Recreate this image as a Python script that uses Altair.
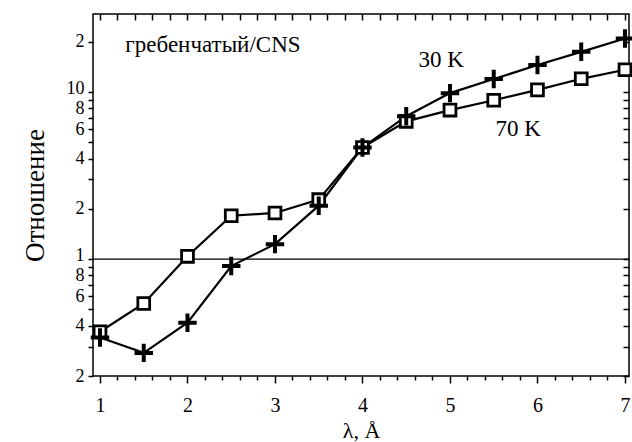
import json
import altair as alt
import pandas as pd

# ---- data ----
lam = [1, 1.5, 2, 2.5, 3, 3.5, 4, 4.5, 5, 5.5, 6, 6.5, 7]
ratio_30K = [0.34, 0.275, 0.417, 0.91, 1.23, 2.09, 4.66, 7.17, 9.85, 11.96, 14.5, 17.4, 20.9]
ratio_70K = [0.368, 0.543, 1.04, 1.82, 1.89, 2.27, 4.66, 6.68, 7.8, 8.93, 10.3, 12.0, 13.6]

y_tick_values = [0.2, 0.3, 0.4, 0.5, 0.6, 0.7, 0.8, 0.9, 1, 2, 3, 4, 5, 6, 7, 8, 9, 10, 20]
y_tick_labels = ["2", "", "4", "", "6", "", "8", "", "1", "2", "", "4", "", "6", "", "8", "", "10", "2"]
x_tick_values = [1, 1.2, 1.4, 1.6, 1.8, 2, 2.2, 2.4, 2.6, 2.8, 3, 3.2, 3.4, 3.6, 3.8, 4,
                 4.2, 4.4, 4.6, 4.8, 5, 5.2, 5.4, 5.6, 5.8, 6, 6.2, 6.4, 6.6, 6.8, 7]

notes_text = ["гребенчатый/CNS", "30 K", "70 K"]
notes_x = [1.29, 4.64, 5.52]
notes_y = [19.2, 15.6, 5.98]

ref_line = [1]

FONT = "Liberation Serif"

df30 = pd.DataFrame({"lam": lam, "ratio": ratio_30K})
df70 = pd.DataFrame({"lam": lam, "ratio": ratio_70K})
notes = pd.DataFrame({"lam": notes_x, "ratio": notes_y, "txt": notes_text})
ref = pd.DataFrame({"ratio": ref_line})

xs = alt.Scale(domain=[0.92, 7.046], nice=False, zero=False)
ys = alt.Scale(type="log", domain=[0.2, 29.3], nice=False)

is_major = "abs(datum.value - round(datum.value)) < 0.01"
y_label_expr = "%s[indexof(%s, datum.value)]" % (json.dumps(y_tick_labels), json.dumps(y_tick_values))
decade_label = "datum.value == 1 || datum.value == 10"

x_axis_bottom = alt.Axis(
    orient="bottom", values=x_tick_values, labelExpr=is_major + " ? '' + round(datum.value) : ''",
    tickSize={"condition": {"test": is_major, "value": 7}, "value": 4},
    tickColor="black", tickWidth=1.5, domain=False, grid=False,
    labelFont=FONT, labelFontSize=20, labelColor="black", labelPadding=12,
    labelOverlap=False, labelFlush=False,
    title="λ, Å", titleFont=FONT, titleFontSize=22, titleFontWeight="normal",
    titleColor="black", titlePadding=5,
)
y_axis_left = alt.Axis(
    orient="left", values=y_tick_values, labelExpr=y_label_expr,
    labelOffset={"condition": {"test": decade_label, "value": -4}, "value": 0},
    tickSize=5, tickColor="black", tickWidth=1.5, domain=False, grid=False,
    labelFont=FONT, labelFontSize=18, labelColor="black", labelPadding=4,
    labelOverlap=False, labelFlush=False,
    title="Отношение", titleFont=FONT, titleFontSize=27, titleFontWeight="normal",
    titleColor="black", titlePadding=17,
)
x_axis_top = alt.Axis(
    orient="top", values=x_tick_values, labels=False, title="", offset=-6,
    tickSize=6, tickColor="black", tickWidth=1.5, domain=False, grid=False,
)
y_axis_right = alt.Axis(
    orient="right", values=y_tick_values, labels=False, title="", offset=-6,
    tickSize=6, tickColor="black", tickWidth=1.5, domain=False, grid=False,
)

line70 = alt.Chart(df70).mark_line(color="black", strokeWidth=2.2).encode(
    x=alt.X("lam:Q", scale=xs, axis=x_axis_bottom),
    y=alt.Y("ratio:Q", scale=ys, axis=y_axis_left),
)
rule = alt.Chart(ref).mark_rule(color="black", strokeWidth=1.4).encode(
    y=alt.Y("ratio:Q", scale=ys, axis=y_axis_right),
    x=alt.value(0),
    x2=alt.value(536),
)
frame_top = alt.Chart(df70).mark_point(opacity=0).encode(
    x=alt.X("lam:Q", scale=xs, axis=x_axis_top),
    y=alt.Y("ratio:Q", scale=ys, axis=None),
)
line30 = alt.Chart(df30).mark_line(color="black", strokeWidth=2.2).encode(
    x=alt.X("lam:Q", scale=xs, axis=None),
    y=alt.Y("ratio:Q", scale=ys, axis=None),
)
pts70 = alt.Chart(df70).mark_point(
    shape="square", size=140, filled=True, fill="white", stroke="black", strokeWidth=2.8, opacity=1
).encode(
    x=alt.X("lam:Q", scale=xs, axis=None),
    y=alt.Y("ratio:Q", scale=ys, axis=None),
)
pts30 = alt.Chart(df30).mark_point(
    shape="M-1,0L1,0M0,-1L0,1", size=340, filled=False, stroke="black", strokeWidth=4, opacity=1
).encode(
    x=alt.X("lam:Q", scale=xs, axis=None),
    y=alt.Y("ratio:Q", scale=ys, axis=None),
)
txt = alt.Chart(notes).mark_text(
    font=FONT, fontSize=23, color="black", align="left", baseline="middle"
).encode(
    x=alt.X("lam:Q", scale=xs, axis=None),
    y=alt.Y("ratio:Q", scale=ys, axis=None),
    text="txt:N",
)

chart = (
    alt.layer(line70, rule, frame_top, line30, pts70, pts30, txt)
    .resolve_axis(x="independent", y="independent")
    .properties(
        width=536, height=362,
        autosize=alt.AutoSizeParams(type="none"),
        padding={"left": 93, "top": 14, "right": 3, "bottom": 66},
        background="white",
    )
    .configure_view(stroke="black", strokeWidth=1.5)
)

chart.save("out.html", embed_options={"renderer": "svg", "actions": False})
